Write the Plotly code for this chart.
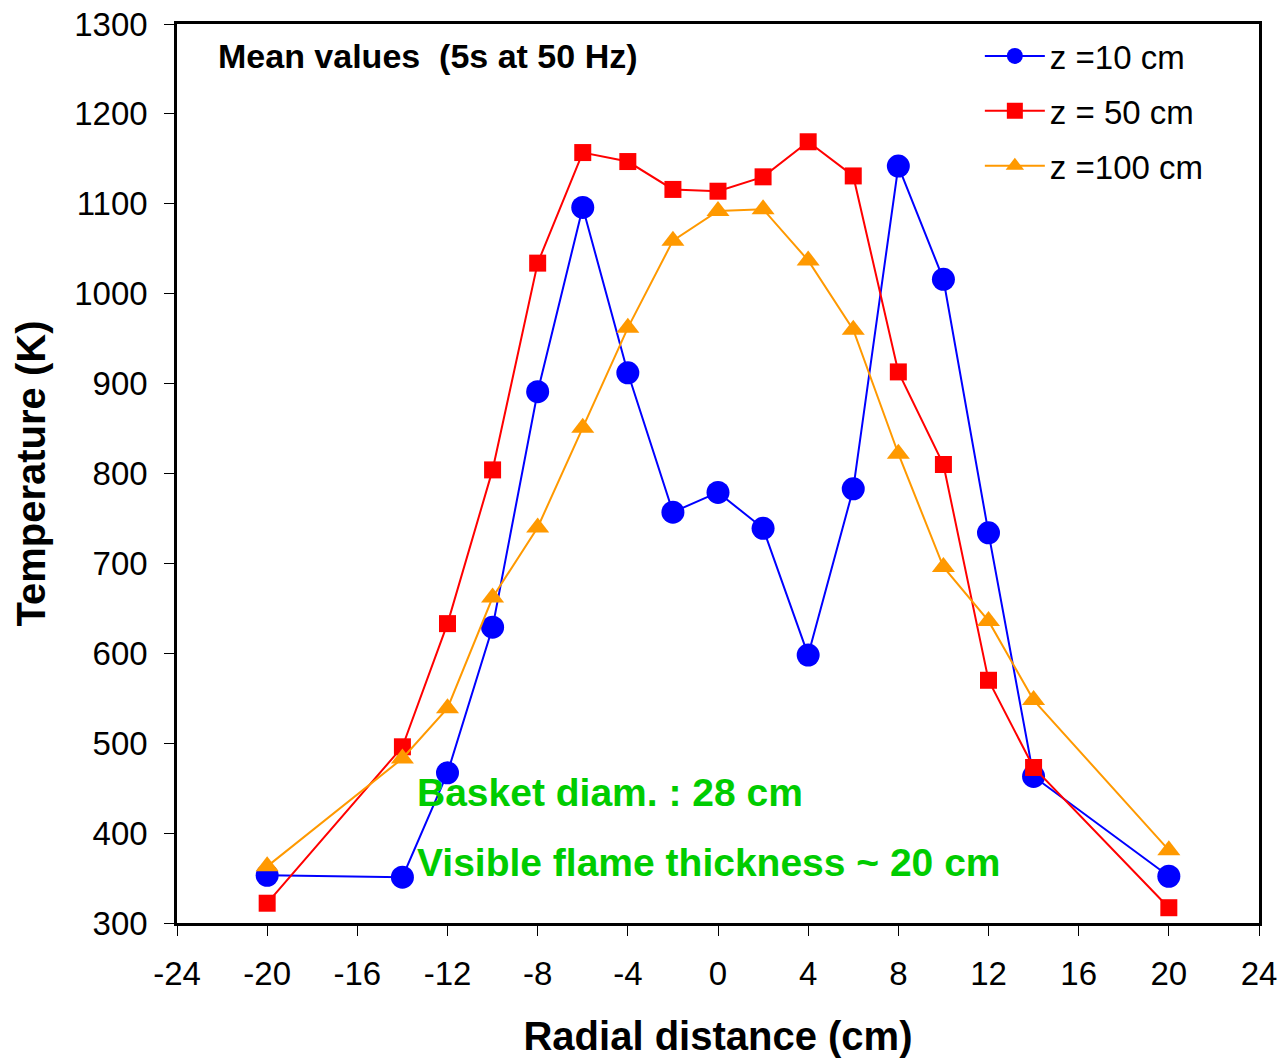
import plotly.graph_objects as go

# Radial positions (cm) of the thermocouple readings
radial_cm = [-20, -14, -12, -10, -8, -6, -4, -2, 0, 2, 4, 6, 8, 10, 12, 14, 20]

# Mean temperatures (K) at three heights above the basket
temp_z10 = [353, 351, 467, 629, 891, 1096, 912, 757, 779, 739, 598, 783, 1142, 1016, 734, 463, 352]
temp_z50 = [322, 496, 633, 804, 1034, 1157, 1147, 1116, 1114, 1130, 1169, 1131, 913, 810, 570, 473, 317]
temp_z100 = [363, 483, 539, 662, 740, 851, 962, 1059, 1092, 1094, 1037, 960, 822, 696, 636, 548, 381]

series_names = ["z =10 cm", "z = 50 cm", "z =100 cm"]
x_ticks = list(range(-24, 25, 4))
y_ticks = list(range(300, 1301, 100))

FONT = "Liberation Sans, Arial, sans-serif"

fig = go.Figure()
fig.add_trace(go.Scatter(
    x=radial_cm, y=temp_z10, name=series_names[0], mode="lines+markers",
    line=dict(color="#0000FF", width=2),
    marker=dict(symbol="circle", size=23, color="#0000FF"),
    legendgroup="a",
))
fig.add_trace(go.Scatter(
    x=radial_cm, y=temp_z50, name=series_names[1], mode="lines+markers",
    line=dict(color="#FF0000", width=2),
    marker=dict(symbol="square", size=17, color="#FF0000"),
    legendgroup="b",
))
fig.add_trace(go.Scatter(
    x=radial_cm, y=temp_z100, name=series_names[2], mode="lines+markers",
    line=dict(color="#FF9900", width=2),
    marker=dict(symbol="triangle-up", size=20, color="#FF9900"),
    legendgroup="c",
))

fig.update_layout(
    width=1282, height=1058,
    margin=dict(l=177, r=23, t=24, b=135),
    paper_bgcolor="white", plot_bgcolor="white",
    font=dict(family=FONT, color="black", size=33),
    showlegend=True,
    legend=dict(
        x=0.742, y=0.9956, xanchor="left", yanchor="top",
        font=dict(size=33), bgcolor="rgba(0,0,0,0)",
        tracegroupgap=9, itemwidth=60,
    ),
    xaxis=dict(
        range=[-24, 24], tickvals=x_ticks, ticktext=[str(v) for v in x_ticks],
        ticks="outside", ticklen=10, tickwidth=1, tickcolor="black",
        showline=True, linecolor="black", linewidth=2.5, mirror=True,
        showgrid=False, zeroline=False, automargin=False,
        ticklabeloverflow="allow",
        tickfont=dict(size=33), ticklabelstandoff=10,
        title=dict(text="<b>Radial distance (cm)</b>", font=dict(size=40), standoff=31),
    ),
    yaxis=dict(
        range=[300, 1300], tickvals=y_ticks, ticktext=[str(v) for v in y_ticks],
        ticks="outside", ticklen=10, tickwidth=1, tickcolor="black",
        showline=True, linecolor="black", linewidth=2.5, mirror=True,
        showgrid=False, zeroline=False, automargin=False,
        ticklabeloverflow="allow",
        tickfont=dict(size=33), ticklabelstandoff=10,
        title=dict(text="<b>Temperature (K)</b>", font=dict(size=40), standoff=17),
    ),
    annotations=[
        dict(text="<b>Mean values  (5s at 50 Hz)</b>", xref="paper", yref="paper",
             x=0.036, y=0.9644, xanchor="left", yanchor="middle", showarrow=False,
             font=dict(size=34, color="black")),
        dict(text="<b>Basket diam. : 28 cm</b>", xref="paper", yref="paper",
             x=0.220, y=0.145, xanchor="left", yanchor="middle", showarrow=False,
             font=dict(size=39, color="#00CC00")),
        dict(text="<b>Visible flame thickness ~ 20 cm</b>", xref="paper", yref="paper",
             x=0.220, y=0.067, xanchor="left", yanchor="middle", showarrow=False,
             font=dict(size=39, color="#00CC00")),
    ],
)

fig.write_html("out.html")
